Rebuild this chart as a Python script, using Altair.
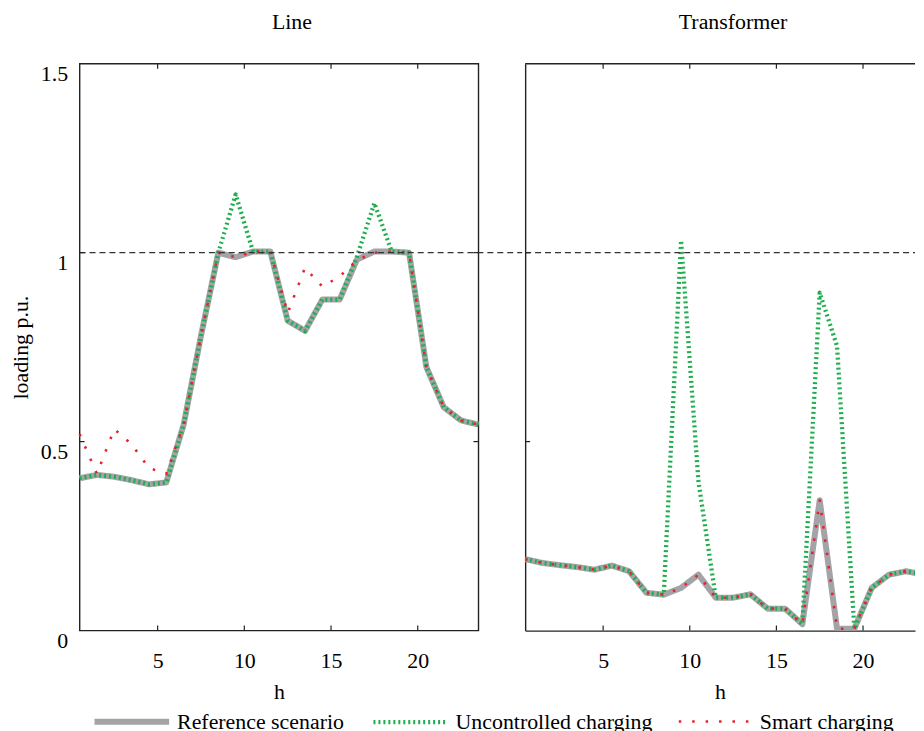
import altair as alt
import pandas as pd

# ---------------- data ----------------
hours = [0.5, 1.5, 2.5, 3.5, 4.5, 5.5, 6.5, 7.5, 8.5, 9.5, 10.5, 11.5,
         12.5, 13.5, 14.5, 15.5, 16.5, 17.5, 18.5, 19.5, 20.5, 21.5, 22.5, 23.5]

line_reference = [0.403, 0.412, 0.407, 0.398, 0.387, 0.392, 0.545, 0.78, 1.0, 0.988, 1.003, 1.003,
                  0.82, 0.793, 0.876, 0.876, 0.982, 1.003, 1.003, 1.0, 0.697, 0.591, 0.556, 0.545]
line_uncontrolled = [0.403, 0.412, 0.407, 0.398, 0.387, 0.392, 0.545, 0.78, 1.0, 1.154, 1.003, 1.003,
                     0.82, 0.793, 0.876, 0.876, 0.99, 1.131, 1.003, 1.0, 0.697, 0.591, 0.556, 0.545]
line_smart = [0.52, 0.415, 0.533, 0.493, 0.43, 0.415, 0.545, 0.78, 1.0, 0.988, 1.003, 1.003,
              0.84, 0.96, 0.91, 0.937, 0.98, 1.0, 1.003, 1.0, 0.697, 0.591, 0.556, 0.545]

trafo_reference = [0.189, 0.179, 0.173, 0.168, 0.161, 0.172, 0.157, 0.1, 0.095, 0.113, 0.148, 0.087,
                   0.087, 0.096, 0.058, 0.058, 0.017, 0.345, 0.005, 0.005, 0.113, 0.148, 0.157, 0.148]
trafo_uncontrolled = [0.189, 0.179, 0.173, 0.168, 0.161, 0.172, 0.157, 0.1, 0.095, 1.032, 0.395, 0.087,
                      0.087, 0.096, 0.058, 0.058, 0.017, 0.894, 0.753, 0.005, 0.113, 0.148, 0.157, 0.148]
trafo_smart = [0.189, 0.179, 0.173, 0.168, 0.161, 0.172, 0.157, 0.1, 0.095, 0.113, 0.148, 0.087,
               0.087, 0.096, 0.058, 0.058, 0.017, 0.345, 0.005, 0.005, 0.113, 0.148, 0.157, 0.148]

series_names = ["Reference scenario", "Uncontrolled charging", "Smart charging"]
panel_titles = ["Line", "Transformer"]
x_tick_values = [5, 10, 15, 20]
y_tick_values = [0.5, 1.0]
y_label_values = [0, 0.5, 1, 1.5]
limit_value = [1.0]

# ---------------- style ----------------
series_colors = ["#a3a3a8", "#1fae4f", "#e8212b"]
series_dash = [[1, 0], [2, 3], [2.5, 11]]
series_width = [6, 2.6, 2.8]
FONT = "Liberation Serif"
FS = 22
W, H = 401, 570
W_RIGHT = 392          # right panel is cut by the page edge in the original
GAP = 44               # gap between panels, bridged by the dashed limit line
TICK = 5


def make_panel(title, ref, unc, smart, is_left):
    rows = []
    for name, vals in zip(series_names, [ref, unc, smart]):
        for h, v in zip(hours, vals):
            rows.append({"h": h, "v": v, "series": name})
    df = pd.DataFrame(rows)

    pw = W if is_left else W_RIGHT
    x_max = 23.5 if is_left else 23.0
    x_enc = alt.X("h:Q", scale=alt.Scale(domain=[0.5, x_max], nice=False, zero=False),
                  axis=alt.Axis(values=x_tick_values, title="h", labelPadding=20, titlePadding=10,
                                domain=not is_left, domainColor="#222222", domainWidth=1.4))
    if is_left:
        y_axis = alt.Axis(values=y_label_values, title="loading p.u.", labelExpr="datum.value",
                          labelBaseline="top", labelPadding=12, titlePadding=8)
    else:
        y_axis = alt.Axis(labels=False, title=None, domain=True, domainColor="#222222",
                          domainWidth=1.4, values=y_label_values)
    y_enc = alt.Y("v:Q", scale=alt.Scale(domain=[0, 1.5], nice=False), axis=y_axis)

    legend = alt.Legend(
        title=None, orient="none", legendX=40, legendY=649,
        direction="horizontal", gridAlign="each",
        symbolType="M-4,0H4", symbolSize=352, labelFont=FONT,
        labelFontSize=FS, labelColor="black", labelOffset=33,
        labelLimit=400, columnPadding=20,
    )
    color = alt.Color("series:O", scale=alt.Scale(domain=series_names, range=series_colors), legend=legend)
    dash = alt.StrokeDash("series:O", scale=alt.Scale(domain=series_names, range=series_dash), legend=legend)
    width = alt.StrokeWidth("series:O", scale=alt.Scale(domain=series_names, range=series_width), legend=legend)

    layers = []
    for name in series_names:
        layers.append(
            alt.Chart(df).transform_filter(alt.datum.series == name)
            .mark_line(strokeCap="butt", strokeJoin="round", clip=not is_left)
            .encode(x=x_enc, y=y_enc, color=color, strokeDash=dash, strokeWidth=width)
        )

    limit_df = pd.DataFrame({"v": limit_value})
    rule_end = W + GAP if is_left else W_RIGHT
    limit = alt.Chart(limit_df).mark_rule(color="#333333", strokeWidth=1.2,
                                          strokeDash=[6, 4], clip=False).encode(
        y="v:Q", x=alt.value(0), x2=alt.value(rule_end))

    xt = pd.DataFrame({"h": x_tick_values})
    yt = pd.DataFrame({"v": y_tick_values})
    tick_style = dict(color="#222222", strokeWidth=1.2)
    extras = [
        alt.Chart(xt).mark_rule(**tick_style).encode(x="h:Q", y=alt.value(H), y2=alt.value(H - TICK)),
        alt.Chart(xt).mark_rule(**tick_style).encode(x="h:Q", y=alt.value(0), y2=alt.value(TICK)),
        alt.Chart(yt).mark_rule(**tick_style).encode(y="v:Q", x=alt.value(0), x2=alt.value(TICK)),
    ]
    if is_left:
        extras.append(alt.Chart(yt).mark_rule(**tick_style).encode(
            y="v:Q", x=alt.value(W), x2=alt.value(W - TICK)))
        view = alt.ViewBackground(stroke="#222222", strokeWidth=1.4)
    else:
        # top border of the cut-off panel
        extras.append(alt.Chart(limit_df).mark_rule(color="#222222", strokeWidth=1.4).encode(
            y=alt.value(0), x=alt.value(0), x2=alt.value(W_RIGHT)))
        view = alt.ViewBackground(stroke=None)

    return alt.layer(*layers, limit, *extras).properties(
        width=pw, height=H, view=view,
        title=alt.TitleParams(title, font=FONT, fontSize=FS, fontWeight="normal",
                              color="black", offset=29, dx=13)
    )


left = make_panel(panel_titles[0], line_reference, line_uncontrolled, line_smart, True)
right = make_panel(panel_titles[1], trafo_reference, trafo_uncontrolled, trafo_smart, False)

# the left panel's dashed line already spans the gap, so no extra spacing
chart = alt.hconcat(left, right, spacing=0).properties(
    padding={"left": 0, "top": 0, "right": 0, "bottom": 0}
).configure_axis(
    domain=False, ticks=False, grid=False,
    labelFont=FONT, labelFontSize=FS, labelColor="black",
    titleFont=FONT, titleFontSize=FS, titleColor="black", titleFontWeight="normal"
)

chart.save("out.html", embed_options={"renderer": "svg", "actions": False})
